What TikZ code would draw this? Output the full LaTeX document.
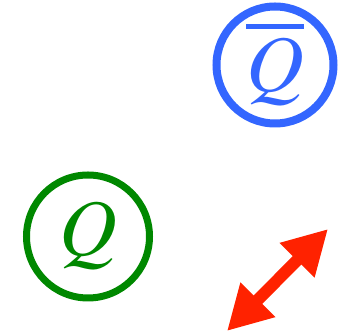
\documentclass[tikz,border=0pt]{standalone}
\usepackage{fontspec}
\setmainfont{TeX Gyre Termes}
\usetikzlibrary{arrows.meta}
\definecolor{qblue}{RGB}{51,102,255}
\definecolor{qgreen}{RGB}{0,136,0}
\definecolor{qred}{RGB}{255,34,0}
\tikzset{
  ring/.style={circle, draw=#1, text=#1, inner sep=0pt, font=\fontsize{80}{86}\selectfont\itshape},
}
\newcommand{\barQ}{\vbox{\hrule height 4.5pt\kern 9pt\hbox{Q}}}
\begin{document}
\begin{tikzpicture}[x=1pt,y=1pt]
\useasboundingbox (0,0) rectangle (338,334);
\node[ring=qblue, line width=8pt, minimum size=117pt] (qbar) at (275,269) {\barQ};
\node[ring=qgreen, line width=7pt, minimum size=123pt] (q) at (88,97.5) {Q};
\coordinate (a) at (227,3);
\coordinate (b) at (328,105);
\draw[qred, line width=12pt, {Triangle[length=44pt,width=46pt]}-{Triangle[length=44pt,width=46pt]}] (a) -- (b);
\end{tikzpicture}
\end{document}
